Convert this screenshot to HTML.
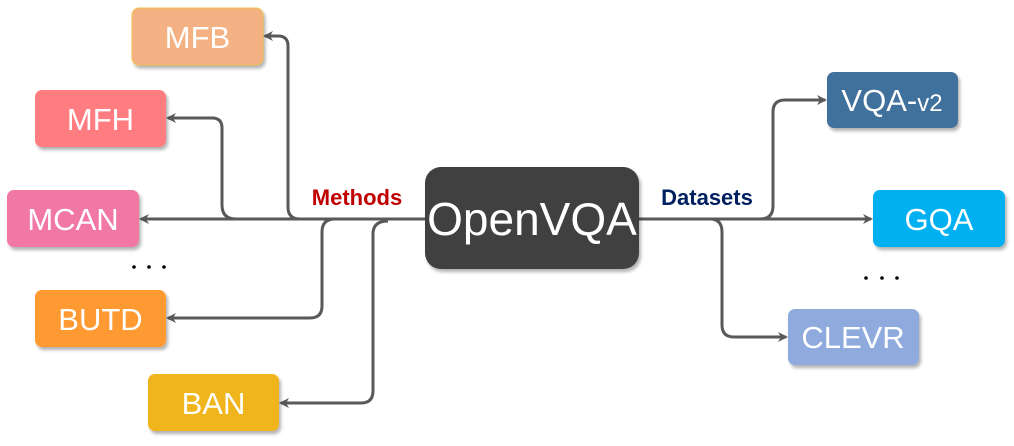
<!DOCTYPE html>
<html><head><meta charset="utf-8"><style>
html,body{margin:0;padding:0;background:#fff;width:1014px;height:446px;overflow:hidden}
svg text{font-family:"Liberation Sans",sans-serif}
</style></head><body>
<svg width="1014" height="446" viewBox="0 0 1014 446" xmlns="http://www.w3.org/2000/svg">
<defs>
<marker id="a" markerWidth="10" markerHeight="10" refX="8" refY="5" orient="auto" markerUnits="userSpaceOnUse">
<path d="M0,0 L10,5 L0,10 L3,5 Z" fill="#595959"/></marker>
<filter id="s" x="-10%" y="-10%" width="125%" height="130%"><feDropShadow dx="2" dy="3" stdDeviation="1.5" flood-color="#000" flood-opacity="0.3"/></filter>
</defs>
<g fill="none" stroke="#595959" stroke-width="3">
<path d="M425,219 H141" marker-end="url(#a)"/>
<path d="M300,219 Q288,219 288,207 V46 Q288,36 278,36 H265" marker-end="url(#a)"/>
<path d="M236,219 Q222,219 222,205 V128 Q222,118 212,118 H168" marker-end="url(#a)"/>
<path d="M335,219 Q322,219 322,232 V306 Q322,318 310,318 H168" marker-end="url(#a)"/>
<path d="M388,221 Q373,221 373,234 V391 Q373,403 361,403 H281" marker-end="url(#a)"/>
<path d="M639,219 H871" marker-end="url(#a)"/>
<path d="M760,219 Q773,219 773,206 V112 Q773,100 785,100 H825" marker-end="url(#a)"/>
<path d="M710,219 Q722,219 722,232 V325 Q722,337 734,337 H786" marker-end="url(#a)"/>
</g>
<g filter="url(#s)">
<rect x="132" y="8" width="131" height="57" rx="7" fill="#f4b183" stroke="#f2c14e" stroke-width="1"/>
<rect x="35" y="90" width="131" height="57" rx="7" fill="#ff7c80"/>
<rect x="7" y="190" width="132" height="57" rx="7" fill="#f178a5"/>
<rect x="35" y="290" width="131" height="57" rx="7" fill="#ff9933"/>
<rect x="148" y="374" width="131" height="57" rx="7" fill="#f0b41b"/>
<rect x="425" y="167" width="214" height="102" rx="16" fill="#404040"/>
<rect x="827" y="72" width="131" height="56" rx="7" fill="#41719c"/>
<rect x="873" y="190" width="132" height="57" rx="7" fill="#00b0f0"/>
<rect x="788" y="309" width="131" height="56" rx="7" fill="#8faadc"/>
</g>
<g fill="#fff" font-size="31" text-anchor="middle">
<text x="197.5" y="48">MFB</text>
<text x="100.5" y="130">MFH</text>
<text x="73" y="230">MCAN</text>
<text x="100.5" y="330">BUTD</text>
<text x="213.5" y="414">BAN</text>
<text x="892" y="111">VQA-<tspan font-size="24">v2</tspan></text>
<text x="939" y="230">GQA</text>
<text x="853" y="348">CLEVR</text>
<text x="532" y="235" font-size="46">OpenVQA</text>
</g>
<text x="357" y="205" font-size="22" font-weight="bold" fill="#c00000" text-anchor="middle">Methods</text>
<text x="707" y="205" font-size="22" font-weight="bold" fill="#002060" text-anchor="middle">Datasets</text>
<g fill="#000">
<circle cx="134" cy="267" r="1.8"/><circle cx="149" cy="267" r="1.8"/><circle cx="164" cy="267" r="1.8"/>
<circle cx="866" cy="278" r="1.8"/><circle cx="882" cy="278" r="1.8"/><circle cx="897" cy="278" r="1.8"/>
</g>
</svg>
</body></html>
